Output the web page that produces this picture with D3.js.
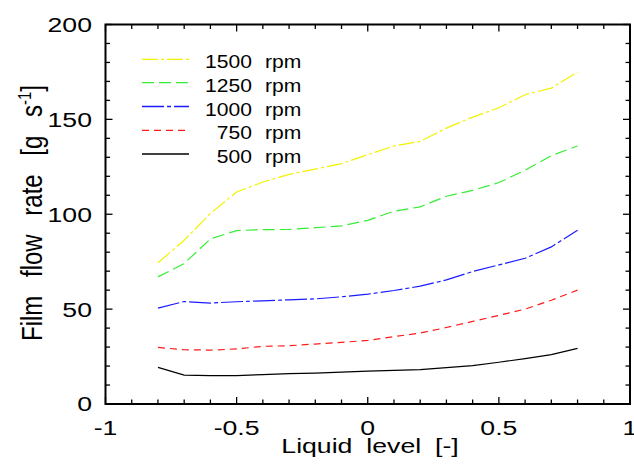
<!DOCTYPE html>
<html><head><meta charset="utf-8">
<script src="https://cdn.jsdelivr.net/npm/d3@7"></script>
<style>body{margin:0;background:#fff}svg{display:block}text{font-family:"Liberation Sans",Arial,sans-serif;fill:#000}</style>
</head><body><svg id="c" width="634" height="464"></svg>
<script>
const xLevels = [-0.8,-0.7,-0.6,-0.5,-0.4,-0.3,-0.2,-0.1,0,0.1,0.2,0.3,0.4,0.5,0.6,0.7,0.8];
const rpm500  = [19.3,15.2,15.0,15.0,15.5,16.0,16.3,16.8,17.3,17.7,18.1,19.2,20.2,22.0,23.9,26.0,29.3];
const rpm750  = [29.8,28.6,28.4,29.0,30.4,30.7,31.6,32.5,33.5,35.5,37.4,40.3,43.5,46.7,50.0,54.7,60.0];
const rpm1000 = [50.5,54.0,53.2,53.9,54.4,54.9,55.4,56.5,57.9,59.8,62.1,65.4,69.8,73.3,76.8,82.8,91.6];
const rpm1250 = [67.0,74.0,87.0,91.4,91.9,92.0,92.9,93.9,96.8,101.6,103.9,109.5,112.6,116.7,123.2,130.9,136.0];
const rpm1500 = [74.4,86.3,100.4,111.7,117.0,121.0,123.8,126.7,131.4,136.0,138.4,145.4,151.2,156.1,163.0,166.5,174.9];
const seriesNames = ["1500","1250","1000","750","500"];
const xTicks = [-1,-0.5,0,0.5,1];
const xTickLabels = ["-1","-0.5","0","0.5","1"];
const yTicks = [0,50,100,150,200];

const series = [
  {name:"1500", vals:rpm1500, color:"#f2f200", dash:"16,3,3,3"},
  {name:"1250", vals:rpm1250, color:"#33ee33", dash:"12,5"},
  {name:"1000", vals:rpm1000, color:"#1a1aff", dash:"22,3,4,3"},
  {name:"750",  vals:rpm750,  color:"#ff1a1a", dash:"7,5"},
  {name:"500",  vals:rpm500,  color:"#000000", dash:null}
];

const svg = d3.select("#c");
const L=105.5, R=630, T=24.5, B=404;
const x = d3.scaleLinear().domain([-1,1]).range([L,R]);
const y = d3.scaleLinear().domain([0,200]).range([B,T]);

// series
const line = d3.line().x((d,i)=>x(xLevels[i])).y(d=>y(d));
series.forEach(s=>{
  svg.append("path").attr("d", line(s.vals)).attr("fill","none")
    .attr("stroke", s.color).attr("stroke-width",1.2)
    .attr("stroke-dasharray", s.dash);
});

// ticks (inward, all four sides)
const g = svg.append("g").attr("stroke","#000").attr("stroke-width",1.3);
d3.range(-1,1.0001,0.1).forEach(v=>{
  const major = Math.abs(Math.round(v*2)-v*2)<1e-6;
  const len = major?7:4.5;
  g.append("line").attr("x1",x(v)).attr("x2",x(v)).attr("y1",B).attr("y2",B-len);
  g.append("line").attr("x1",x(v)).attr("x2",x(v)).attr("y1",T).attr("y2",T+len);
});
d3.range(0,200.001,10).forEach(v=>{
  const major = v%50===0;
  const len = major?7:4.5;
  g.append("line").attr("y1",y(v)).attr("y2",y(v)).attr("x1",L).attr("x2",L+len);
  g.append("line").attr("y1",y(v)).attr("y2",y(v)).attr("x1",R).attr("x2",R-len);
});
svg.append("rect").attr("x",L).attr("y",T).attr("width",R-L).attr("height",B-T)
  .attr("fill","none").attr("stroke","#000").attr("stroke-width",2);

const SX = 1.3;
// tick labels
svg.append("g").selectAll("text").data(xTicks).join("text")
  .attr("transform",d=>`translate(${x(d)},434.5) scale(${SX},1)`).attr("text-anchor","middle")
  .attr("font-size",20.5).text((d,i)=>xTickLabels[i]);
svg.append("g").selectAll("text").data(yTicks).join("text")
  .attr("transform",d=>`translate(92,${y(d)+7.4}) scale(${SX},1)`).attr("text-anchor","end")
  .attr("font-size",20.5).text(d=>d);

// axis titles
svg.append("text").attr("transform",`translate(370,452.5) scale(${SX},1)`).attr("text-anchor","middle")
  .attr("font-size",20.5).attr("word-spacing","5px").text("Liquid level [-]");
const yt = svg.append("text").attr("transform","translate(42,213) scale(1.2,1) rotate(-90)")
  .attr("text-anchor","middle").attr("font-size",24).attr("word-spacing","12px");
yt.append("tspan").text("Film flow rate [g s");
yt.append("tspan").attr("dy",-9).attr("font-size",15).text("-1");
yt.append("tspan").attr("dy",9).text("]");

// legend
const legY = [59.3,82.7,106.5,130.3,154];
series.forEach((s,i)=>{
  svg.append("line").attr("x1",142).attr("x2",189).attr("y1",legY[i]).attr("y2",legY[i])
    .attr("stroke",s.color).attr("stroke-width",1.3).attr("stroke-dasharray",s.dash);
  svg.append("text").attr("transform",`translate(252,${legY[i]+9}) scale(1.14,1)`).attr("text-anchor","end")
    .attr("font-size",18.5).text(seriesNames[i]);
  svg.append("text").attr("transform",`translate(265,${legY[i]+9}) scale(1.14,1)`)
    .attr("font-size",18.5).text("rpm");
});
</script></body></html>
